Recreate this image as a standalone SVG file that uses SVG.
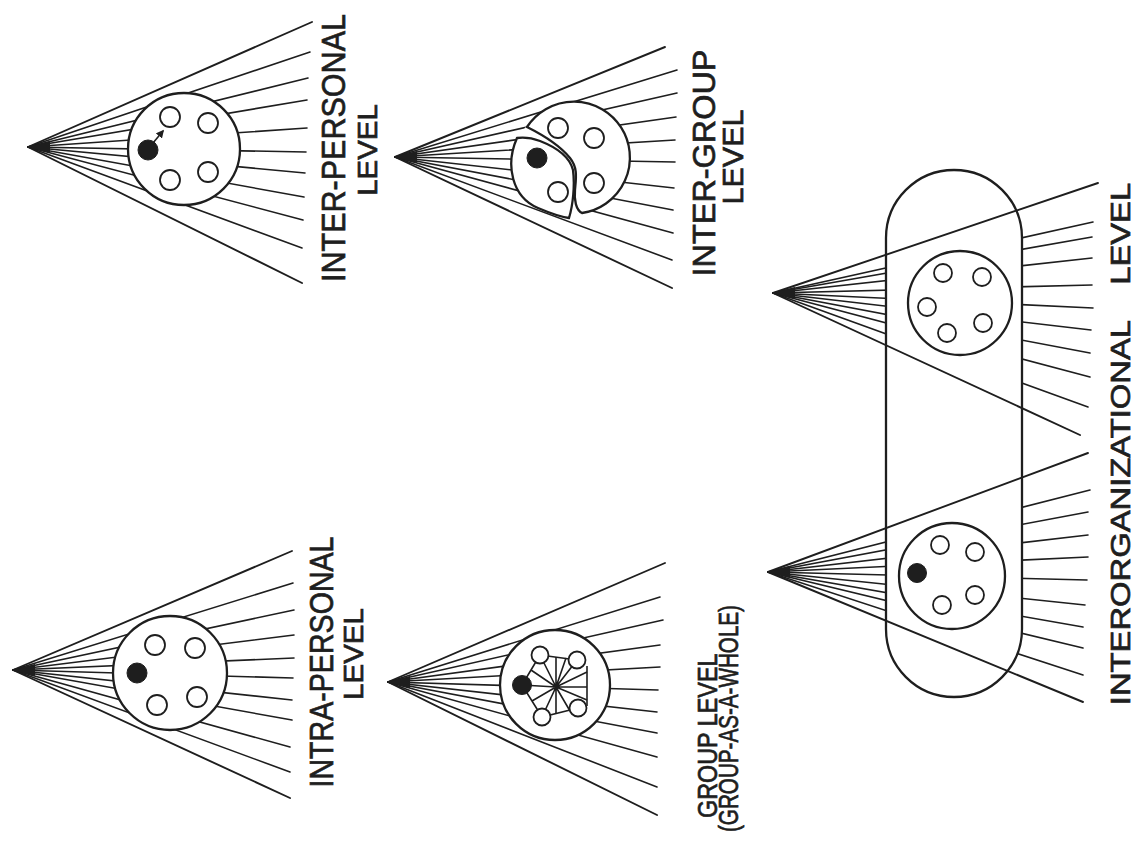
<svg xmlns="http://www.w3.org/2000/svg" width="1142" height="847" viewBox="0 0 1142 847">
<style>
.ray{stroke:#1e1e1e;stroke-width:1.6;fill:none;stroke-linecap:round}
.edge{stroke:#1e1e1e;stroke-width:1.9;fill:none;stroke-linecap:round}
.big{stroke:#1e1e1e;stroke-width:2.3;fill:#fff}
.sm{stroke:#1e1e1e;stroke-width:1.8;fill:#fff}
.dot{fill:#1e1e1e;stroke:#1e1e1e;stroke-width:1}
.wedge{fill:#1e1e1e}
.net{stroke:#1e1e1e;stroke-width:1.6;fill:none}
.lbl{font-family:"Liberation Sans",Arial,sans-serif;fill:#1e1e1e;stroke:#1e1e1e;stroke-width:0.7;text-anchor:middle}
.lbs{font-family:"Liberation Sans",Arial,sans-serif;fill:#1e1e1e;stroke:#1e1e1e;stroke-width:0.7;text-anchor:start}
</style>
<defs>
<marker id="ah" viewBox="0 0 10 10" refX="8" refY="5" markerWidth="5" markerHeight="5" orient="auto">
<path d="M0,0 L10,5 L0,10 Z" fill="#1e1e1e"/>
</marker>
</defs>
<rect width="1142" height="847" fill="#fff"/>

<g id="inter-personal">
<g class="ray">
<line x1="28" y1="147" x2="310" y2="52"/><line x1="28" y1="147" x2="308" y2="78"/><line x1="28" y1="147" x2="307" y2="100"/><line x1="28" y1="147" x2="307" y2="128"/><line x1="28" y1="147" x2="306" y2="152"/><line x1="28" y1="147" x2="305" y2="173"/><line x1="28" y1="147" x2="304" y2="197"/><line x1="28" y1="147" x2="303" y2="220"/><line x1="28" y1="147" x2="302" y2="248"/>
</g>
<line class="edge" x1="28" y1="147" x2="312" y2="22"/><line class="edge" x1="28" y1="147" x2="302" y2="283"/>
<polygon class="wedge" points="28,147 50,141 50,153"/>
<circle class="big" cx="184" cy="149" r="56"/>
<circle class="dot" cx="148" cy="150" r="10"/>
<line class="net" x1="153" y1="143" x2="163" y2="131" marker-end="url(#ah)"/>
<circle class="sm" cx="170" cy="117" r="10"/><circle class="sm" cx="208" cy="123" r="10"/><circle class="sm" cx="170" cy="180" r="10"/><circle class="sm" cx="208" cy="172" r="10"/>
<text class="lbl" font-size="34" transform="translate(345,148) rotate(-90) scale(0.898,1)">INTER-PERSONAL</text>
<text class="lbl" font-size="28" transform="translate(377,150) rotate(-90) scale(1.05,1)">LEVEL</text>
</g>

<g id="intra-personal">
<g class="ray">
<line x1="13" y1="670" x2="293" y2="583"/><line x1="13" y1="670" x2="294" y2="610"/><line x1="13" y1="670" x2="294" y2="635"/><line x1="13" y1="670" x2="294" y2="658"/><line x1="13" y1="670" x2="293" y2="678"/><line x1="13" y1="670" x2="292" y2="700"/><line x1="13" y1="670" x2="292" y2="720"/><line x1="13" y1="670" x2="290" y2="747"/><line x1="13" y1="670" x2="290" y2="772"/>
</g>
<line class="edge" x1="13" y1="670" x2="292" y2="551"/><line class="edge" x1="13" y1="670" x2="290" y2="798"/>
<polygon class="wedge" points="13,670 35,664 35,676"/>
<circle class="big" cx="170" cy="673" r="57"/>
<circle class="dot" cx="137" cy="673" r="10"/>
<circle class="sm" cx="155" cy="645" r="10"/><circle class="sm" cx="195" cy="648" r="10"/><circle class="sm" cx="157" cy="705" r="10"/><circle class="sm" cx="197" cy="697" r="10"/>
<text class="lbl" font-size="34" transform="translate(333,662) rotate(-90) scale(0.841,1)">INTRA-PERSONAL</text>
<text class="lbl" font-size="28" transform="translate(363,654) rotate(-90) scale(1.055,1)">LEVEL</text>
</g>

<g id="inter-group">
<g class="ray">
<line x1="395" y1="157" x2="677" y2="70"/><line x1="395" y1="157" x2="677" y2="93"/><line x1="395" y1="157" x2="676" y2="117"/><line x1="395" y1="157" x2="675" y2="140"/><line x1="395" y1="157" x2="675" y2="162"/><line x1="395" y1="157" x2="674" y2="188"/><line x1="395" y1="157" x2="673" y2="210"/><line x1="395" y1="157" x2="673" y2="233"/><line x1="395" y1="157" x2="672" y2="260"/>
</g>
<line class="edge" x1="395" y1="157" x2="665" y2="47"/><line class="edge" x1="395" y1="157" x2="672" y2="288"/>
<polygon class="wedge" points="395,157 417,151 417,163"/>
<circle cx="571" cy="158" r="55" fill="#fff"/>
<path class="big" d="M527,127 A56,56 0 1,1 582,213 C576,210 574,200 575,190 C576,178 578,168 570,158 C562,148 545,136 527,127 Z"/>
<path class="big" d="M517,138 C505,165 512,197 538,208 C552,214 562,217 569,218 C573,205 575,185 573,170 C570,158 558,148 540,141 C532,138 524,137 517,138 Z"/>
<circle class="dot" cx="537" cy="158" r="10"/>
<circle class="sm" cx="558" cy="192" r="10"/>
<circle class="sm" cx="558" cy="128" r="10"/><circle class="sm" cx="594" cy="138" r="10"/><circle class="sm" cx="594" cy="183" r="10"/>
<text class="lbl" font-size="32" transform="translate(715,163) rotate(-90) scale(1.013,1)">INTER-GROUP</text>
<text class="lbl" font-size="29" transform="translate(743,157) rotate(-90) scale(1.05,1)">LEVEL</text>
</g>

<g id="group-level">
<g class="ray">
<line x1="388" y1="682" x2="660" y2="597"/><line x1="388" y1="682" x2="663" y2="620"/><line x1="388" y1="682" x2="660" y2="645"/><line x1="388" y1="682" x2="660" y2="667"/><line x1="388" y1="682" x2="658" y2="690"/><line x1="388" y1="682" x2="657" y2="712"/><line x1="388" y1="682" x2="657" y2="733"/><line x1="388" y1="682" x2="657" y2="757"/><line x1="388" y1="682" x2="657" y2="787"/>
</g>
<line class="edge" x1="388" y1="682" x2="665" y2="563"/><line class="edge" x1="388" y1="682" x2="657" y2="815"/>
<polygon class="wedge" points="388,682 410,676 410,688"/>
<circle class="big" cx="555" cy="685" r="55"/>
<g class="net">
<path d="M540,655 L577,660 M587,666 L587,706 M578,708 L542,717 L522,685 L540,655"/>
<path d="M556,687 L587,687 M556,687 L587,672 M556,687 L577,660 M556,687 L566,658 M556,687 L556,657 M556,687 L540,655 M556,687 L531,670 M556,687 L522,685 M556,687 L532,701 M556,687 L542,717 M556,687 L556,714 M556,687 L570,711 M556,687 L587,700"/>
</g>
<circle class="dot" cx="522" cy="685" r="9.5"/>
<circle class="sm" cx="540" cy="655" r="8.5"/><circle class="sm" cx="577" cy="660" r="8.5"/><circle class="sm" cx="578" cy="708" r="8.5"/><circle class="sm" cx="542" cy="717" r="8.5"/>
<text class="lbs" font-size="28" x="0" y="0" transform="translate(717,818) rotate(-90) scale(0.835,1)">GROUP LEVEL</text>
<text class="lbs" font-size="27" x="0" y="0" transform="translate(738,832) rotate(-90) scale(0.765,1)">(GROUP-AS-A-WHOLE)</text>
</g>

<g id="interorganizational">
<g class="ray">
<line x1="773" y1="293" x2="1093" y2="222"/><line x1="773" y1="293" x2="1092" y2="237"/><line x1="773" y1="293" x2="1092" y2="258"/><line x1="773" y1="293" x2="1092" y2="285"/><line x1="773" y1="293" x2="1093" y2="308"/><line x1="773" y1="293" x2="1091" y2="330"/><line x1="773" y1="293" x2="1090" y2="353"/><line x1="773" y1="293" x2="1090" y2="377"/><line x1="773" y1="293" x2="1088" y2="407"/>
<line x1="768" y1="572" x2="1090" y2="490"/><line x1="768" y1="572" x2="1088" y2="512"/><line x1="768" y1="572" x2="1088" y2="535"/><line x1="768" y1="572" x2="1088" y2="557"/><line x1="768" y1="572" x2="1087" y2="580"/><line x1="768" y1="572" x2="1085" y2="605"/><line x1="768" y1="572" x2="1083" y2="627"/><line x1="768" y1="572" x2="1083" y2="648"/><line x1="768" y1="572" x2="1083" y2="675"/>
</g>
<rect class="big" x="886" y="170" width="136" height="527" rx="68" ry="68"/>
<line class="edge" x1="773" y1="293" x2="1098" y2="183"/><line class="edge" x1="773" y1="293" x2="1080" y2="435"/>
<line class="edge" x1="768" y1="572" x2="1088" y2="453"/><line class="edge" x1="768" y1="572" x2="1083" y2="702"/>
<polygon class="wedge" points="773,293 795,287 795,299"/>
<polygon class="wedge" points="768,572 790,566 790,578"/>
<circle class="big" cx="960" cy="303" r="52"/>
<circle class="sm" cx="943" cy="273" r="9"/><circle class="sm" cx="982" cy="277" r="9"/><circle class="sm" cx="927" cy="307" r="9"/><circle class="sm" cx="947" cy="333" r="9"/><circle class="sm" cx="983" cy="323" r="9"/>
<circle class="big" cx="952" cy="576" r="53"/>
<circle class="dot" cx="917" cy="573" r="9.5"/>
<circle class="sm" cx="940" cy="545" r="9"/><circle class="sm" cx="975" cy="552" r="9"/><circle class="sm" cx="942" cy="605" r="9"/><circle class="sm" cx="975" cy="595" r="9"/>
<text class="lbl" font-size="28" transform="translate(1130,444) rotate(-90) scale(1.17,1)" xml:space="preserve">INTERORGANIZATIONAL    LEVEL</text>
</g>
</svg>
